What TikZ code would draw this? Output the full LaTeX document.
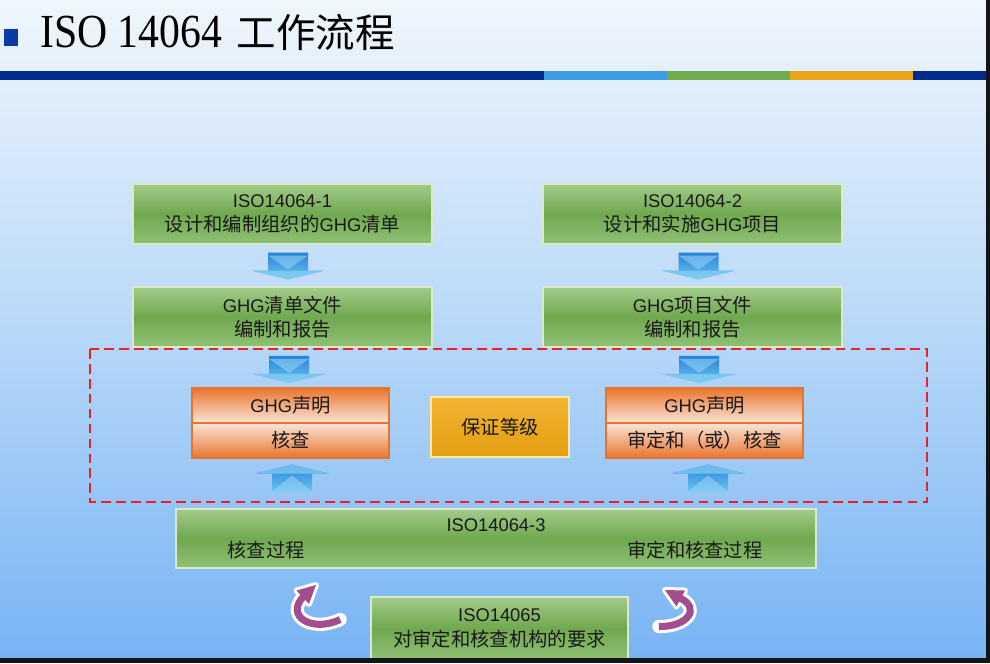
\documentclass[tikz,border=0pt]{standalone}
\usepackage{fontspec}
\setmainfont{Noto Sans CJK SC}
\newfontfamily\arialfont[Scale=0.95]{Liberation Sans}
\newfontfamily\titleserif[FakeStretch=0.88]{Liberation Serif}
\usetikzlibrary{positioning,calc}

\definecolor{bgtop}{HTML}{F0F6FC}
\definecolor{bgmid}{HTML}{B8D8F8}
\definecolor{bgbot}{HTML}{78B4F4}
\definecolor{banddark}{HTML}{022C8C}
\definecolor{bandblue}{HTML}{3C9CE6}
\definecolor{bandgreen}{HTML}{72AA4E}
\definecolor{bandorange}{HTML}{E9A418}
\definecolor{titleblue}{HTML}{0A3CA8}
\definecolor{greenedge}{HTML}{D8EACB}
\definecolor{greentop}{HTML}{A3CB8A}
\definecolor{greenmid}{HTML}{70A84F}
\definecolor{greenbot}{HTML}{90C176}
\definecolor{orangedark}{HTML}{E8742C}
\definecolor{orangelight}{HTML}{FBE5D8}
\definecolor{goldtop}{HTML}{F2B530}
\definecolor{goldbot}{HTML}{E49E12}
\definecolor{goldedge}{HTML}{FCE9A6}
\definecolor{arrowdark}{HTML}{2782D6}
\definecolor{arrowlight}{HTML}{6CC4F2}
\definecolor{cyclepurple}{HTML}{A24D8D}
\definecolor{framered}{HTML}{E8222A}

\tikzset{
  boxtext/.style={font=\fontsize{11}{14}\selectfont, text=black!90, align=center},
  greenbox/.style={boxtext, draw=greenedge, line width=1pt, top color=greentop,
    bottom color=greenbot, middle color=greenmid, minimum height=1.2cm, inner sep=2pt},
  orangetop/.style={boxtext, draw=orangedark, line width=0.7pt, top color=orangedark,
    bottom color=orangelight, minimum width=3.94cm, minimum height=0.7cm, outer sep=0pt, inner sep=1pt},
  orangebot/.style={orangetop, top color=orangelight, bottom color=orangedark},
  goldbox/.style={boxtext, draw=goldedge, line width=1.2pt, top color=goldtop,
    bottom color=goldbot, minimum width=2.76cm, minimum height=1.2cm},
  boxlabel/.style={boxtext, inner sep=1pt},
  groupframe/.style={framered, line width=1.3pt, dash pattern=on 5.5pt off 3pt},
  cycleback/.style={white, line width=7.5pt, line cap=round, line join=round},
  cyclefront/.style={cyclepurple, line width=4pt},
  headback/.style={fill=white, draw=white, line width=3.4pt, line join=round},
  headfront/.style={fill=cyclepurple}
}

% block arrows between the boxes
\newcommand{\downblock}[1]{%
  \begin{scope}[shift={(#1)}]
    \shade[top color=arrowdark, bottom color=arrowlight]
      (-20,-13) -- (20,-13) -- (20,5) -- (37,5) -- (0,14) -- (-37,5) -- (-20,5) -- cycle;
    \fill[arrowlight!70!white, opacity=0.55] (-20,-10) -- (20,-10) -- (0,4) -- cycle;
    \fill[arrowlight!80!white, opacity=0.7] (-37,5) -- (37,5) -- (0,14) -- cycle;
  \end{scope}}
\newcommand{\upblock}[1]{%
  \begin{scope}[shift={(#1)}]
    \shade[top color=arrowdark, bottom color=arrowlight]
      (-20,13) -- (20,13) -- (20,-5) -- (37,-5) -- (0,-14) -- (-37,-5) -- (-20,-5) -- cycle;
    \fill[arrowlight!70!white, opacity=0.55] (-20,13) -- (20,13) -- (0,-3) -- cycle;
    \fill[arrowlight!80!white, opacity=0.7] (-37,-5) -- (37,-5) -- (0,-14) -- cycle;
  \end{scope}}

\begin{document}
\begin{tikzpicture}[x=0.02cm,y=-0.02cm]
  \useasboundingbox (0,0) rectangle (990,663);
  % slide background and header
  \shade[top color=bgtop, bottom color=bgbot, middle color=bgmid] (0,0) rectangle (990,658);
  \fill[titleblue] (4,29) rectangle (18,46);
  \node[anchor=base west, inner sep=0pt] (title) at (40,47)
    {{\titleserif\fontsize{27}{30}\selectfont ISO 14064}\hspace{0.8em}{\fontsize{22.5}{26}\selectfont 工作流程}};
  \fill[banddark] (0,71) rectangle (544,80);
  \fill[bandblue] (544,71) rectangle (667,80);
  \fill[bandgreen] (667,71) rectangle (790,80);
  \fill[bandorange] (790,71) rectangle (913,80);
  \fill[banddark] (913,71) rectangle (990,80);

  % standards and documents
  \node[greenbox, minimum width=5.98cm] (b1) at (282.5,214)
    {{\arialfont ISO14064-1}\\设计和编制组织的{\arialfont GHG}清单};
  \node[greenbox, minimum width=5.98cm] (b2) at (692.5,214)
    {{\arialfont ISO14064-2}\\设计和实施{\arialfont GHG}项目};
  \node[greenbox, minimum width=5.98cm] (b3) at (282.5,317)
    {{\arialfont GHG}清单文件\\编制和报告};
  \node[greenbox, minimum width=5.98cm] (b4) at (692.5,317)
    {{\arialfont GHG}项目文件\\编制和报告};

  % statements
  \node[orangetop] (olt) at (290.5,405.5) {{\arialfont GHG}声明};
  \node[orangebot, below=0pt of olt] (olb) {核查};
  \node[orangetop] (ort) at (704.5,405.5) {{\arialfont GHG}声明};
  \node[orangebot, below=0pt of ort] (orb) {审定和（或）核查};
  \node[goldbox] (level) at (500,427) {保证等级};

  % validation and verification
  \node[greenbox, minimum width=12.8cm, minimum height=1.18cm] (b5) at (496,538.5) {};
  \node[boxlabel] (b5t) at (496,525) {\arialfont ISO14064-3};
  \node[boxlabel] (b5l) at (266,550) {核查过程};
  \node[boxlabel] (b5r) at (695,550) {审定和核查过程};
  \node[greenbox, minimum width=5.14cm, minimum height=1.26cm] (b6) at (499.5,628.5)
    {{\arialfont ISO14065}\\对审定和核查机构的要求};

  \draw[groupframe] (90,349) rectangle (927,502);

  \coordinate (a1) at ($(b1.south)!0.5!(b3.north)+(5.5,0)$);
  \coordinate (a2) at ($(b2.south)!0.5!(b4.north)+(6,0)$);
  \coordinate (a3) at ($(b3.south)!0.5!(olt.north)+(2.5,1)$);
  \coordinate (a4) at ($(b4.south)!0.5!(ort.north)+(0.5,1)$);
  \coordinate (a5) at ($(olb.south)!0.5!(olb.south |- b5.north)+(1.5,-4.5)$);
  \coordinate (a6) at ($(orb.south)!0.5!(orb.south |- b5.north)+(3.5,-4.5)$);
  \downblock{a1}
  \downblock{a2}
  \downblock{a3}
  \downblock{a4}
  \upblock{a5}
  \upblock{a6}

  % cycle arrows beside ISO14065
  \coordinate (c1s) at ($(b6.west)+(-30,-9)$);
  \coordinate (c1h) at (304,596);
  \coordinate (c2s) at ($(b6.east)+(30,-2)$);
  \coordinate (c2h) at (680,598);
  \draw[cycleback] (c1s) .. controls (312,633) and (284,616) .. (c1h);
  \draw[cycleback] (c2s) .. controls (688,627) and (701,608) .. (c2h);
  \draw[headback] (316,585) -- (309,604) -- (296.5,590.5) -- cycle;
  \draw[headback] (665,590) -- (685,590.5) -- (676.5,606.5) -- cycle;
  \draw[cyclefront] (c1s) .. controls (312,633) and (284,616) .. (c1h);
  \draw[cyclefront] (c2s) .. controls (688,627) and (701,608) .. (c2h);
  \fill[headfront] (316,585) -- (309,604) -- (296.5,590.5) -- cycle;
  \fill[headfront] (665,590) -- (685,590.5) -- (676.5,606.5) -- cycle;

  % screen edges
  \fill[black!92] (0,658) rectangle (990,663);
  \fill[black!92] (986,0) rectangle (990,663);
\end{tikzpicture}
\end{document}
